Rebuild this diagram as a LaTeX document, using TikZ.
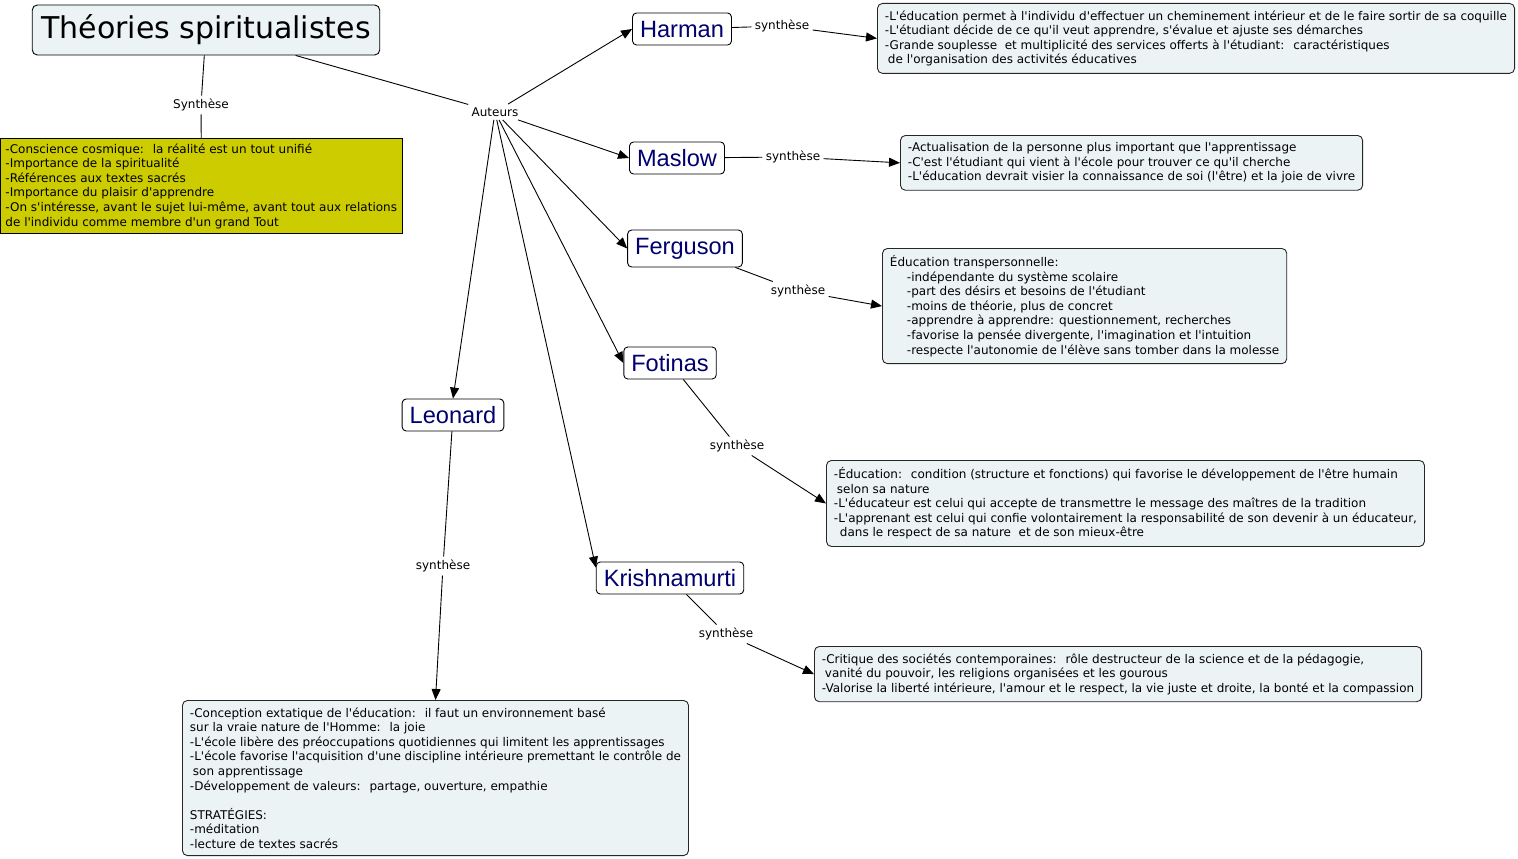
\documentclass[tikz,border=0pt]{standalone}
\usepackage{fontspec}
\newfontfamily\notefont{DejaVu Sans}
\newfontfamily\namefont{Liberation Sans}
\usetikzlibrary{arrows.meta}

\definecolor{notefill}{RGB}{236,243,245}
\definecolor{cosmicfill}{RGB}{204,204,0}
\definecolor{authorblue}{RGB}{0,0,110}

\tikzset{
	every node/.style={font=\notefont\fontsize{12}{14.6}\selectfont},
	titlebox/.style={draw, fill=notefill, rounded corners=5pt, inner xsep=9pt,
		minimum height=50pt, font=\notefont\fontsize{30}{34}\selectfont},
	cosmicbox/.style={draw, fill=cosmicfill, align=left, inner xsep=5pt, inner ysep=5pt},
	notebox/.style={draw=black!85, fill=notefill, rounded corners=5pt, align=left,
		inner xsep=7.5pt, inner ysep=7pt},
	authorbox/.style={draw, fill=white, rounded corners=4pt, text=authorblue,
		inner xsep=7.5pt, inner ysep=0pt, minimum height=32pt,
		font=\namefont\fontsize{23.6}{26}\selectfont},
	linklabel/.style={inner sep=3pt}
}

\begin{document}
\begin{tikzpicture}[x=1pt, y=-1pt, line width=0.9pt, >={Triangle[length=11pt,width=9pt]}]
	% Size of the page
	\useasboundingbox (0,0) rectangle (1518,859);
	% Title, its synthesis and the authors hub
	\node [titlebox] (title) at (206,30) {Théories spiritualistes};
	\node [linklabel] (synth) at (201,105) {Synthèse};
	\node [linklabel] (auteurs) at (495,112) {Auteurs};
	\node [cosmicbox, anchor=north west] (cosmic) at (0,138) {-Conscience cosmique:~ la réalité est un tout unifié\\
		-Importance de la spiritualité\\
		-Références aux textes sacrés\\
		-Importance du plaisir d'apprendre\\
		-On s'intéresse, avant le sujet lui-même, avant tout aux relations\\
		de l'individu comme membre d'un grand Tout};
	% The authors
	\node [authorbox] (harman) at (682,29) {Harman};
	\node [authorbox] (maslow) at (677,158) {Maslow};
	\node [authorbox, minimum height=37pt] (ferguson) at (685,248.5) {Ferguson};
	\node [authorbox] (fotinas) at (670,363) {Fotinas};
	\node [authorbox] (leonard) at (453,415) {Leonard};
	\node [authorbox] (krishnamurti) at (670,578) {Krishnamurti};
	% What each author brings
	\node [notebox, anchor=north west] (harmannote) at (877,3) {-L'éducation permet à l'individu d'effectuer un cheminement intérieur et de le faire sortir de sa coquille\\
		-L'étudiant décide de ce qu'il veut apprendre, s'évalue et ajuste ses démarches\\
		-Grande souplesse~ et multiplicité des services offerts à l'étudiant:~ caractéristiques\\
		\hspace*{3pt}de l'organisation des activités éducatives};
	\node [notebox, anchor=north west] (maslownote) at (900,135) {-Actualisation de la personne plus important que l'apprentissage\\
		-C'est l'étudiant qui vient à l'école pour trouver ce qu'il cherche\\
		-L'éducation devrait visier la connaissance de soi (l'être) et la joie de vivre};
	\node [notebox, anchor=north west] (fergusonnote) at (882,248) {Éducation transpersonnelle:\\
		\hspace*{17pt}-indépendante du système scolaire\\
		\hspace*{17pt}-part des désirs et besoins de l'étudiant\\
		\hspace*{17pt}-moins de théorie, plus de concret\\
		\hspace*{17pt}-apprendre à apprendre: questionnement, recherches\\
		\hspace*{17pt}-favorise la pensée divergente, l'imagination et l'intuition\\
		\hspace*{17pt}-respecte l'autonomie de l'élève sans tomber dans la molesse};
	\node [notebox, anchor=north west] (fotinasnote) at (826,460) {-Éducation:~ condition (structure et fonctions) qui favorise le développement de l'être humain\\
		\hspace*{3pt}selon sa nature\\
		-L'éducateur est celui qui accepte de transmettre le message des maîtres de la tradition\\
		-L'apprenant est celui qui confie volontairement la responsabilité de son devenir à un éducateur,\\
		\hspace*{6pt}dans le respect de sa nature~ et de son mieux-être};
	\node [notebox, anchor=north west] (leonardnote) at (182,700) {-Conception extatique de l'éducation:~ il faut un environnement basé\\
		sur la vraie nature de l'Homme:~ la joie\\
		-L'école libère des préoccupations quotidiennes qui limitent les apprentissages\\
		-L'école favorise l'acquisition d'une discipline intérieure premettant le contrôle de\\
		\hspace*{3pt}son apprentissage\\
		-Développement de valeurs:~ partage, ouverture, empathie\\[14.6pt]
		STRATÉGIES:\\
		-méditation\\
		-lecture de textes sacrés};
	\node [notebox, anchor=north west] (krishnamurtinote) at (814,646) {-Critique des sociétés contemporaines:~ rôle destructeur de la science et de la pédagogie,\\
		\hspace*{3pt}vanité du pouvoir, les religions organisées et les gourous\\
		-Valorise la liberté intérieure, l'amour et le respect, la vie juste et droite, la bonté et la compassion};
	% Labels on the links
	\node [linklabel] (synharman) at (782,26) {synthèse};
	\node [linklabel] (synmaslow) at (793,157) {synthèse};
	\node [linklabel] (synferguson) at (798,291) {synthèse};
	\node [linklabel] (synfotinas) at (737,446) {synthèse};
	\node [linklabel] (synleonard) at (443,566) {synthèse};
	\node [linklabel] (synkrishnamurti) at (726,634) {synthèse};
	% Links from the title
	\draw (title) -- (synth) (synth) -- (cosmic.north);
	\draw (title) -- (auteurs);
	% Links to the authors
	\draw [->] (auteurs) -- (harman.west);
	\draw [->] (auteurs) -- (maslow.west);
	\draw [->] (auteurs) -- (ferguson.west);
	\draw [->] (auteurs) -- (fotinas.west);
	\draw [->] (auteurs) -- (leonard.north);
	\draw [->] (auteurs) -- (krishnamurti.172);
	% Links to the notes
	\draw (harman) -- (synharman); \draw [->] (synharman) -- (harmannote.west);
	\draw (maslow) -- (synmaslow); \draw [->] (synmaslow) -- (maslownote.west);
	\draw (ferguson) -- (synferguson); \draw [->] (synferguson) -- (fergusonnote.west);
	\draw (fotinas) -- (synfotinas); \draw [->] (synfotinas) -- (fotinasnote.west);
	\draw (leonard) -- (synleonard); \draw [->] (synleonard) -- (leonardnote.north);
	\draw (krishnamurti) -- (synkrishnamurti); \draw [->] (synkrishnamurti) -- (krishnamurtinote.west);
\end{tikzpicture}
\end{document}
